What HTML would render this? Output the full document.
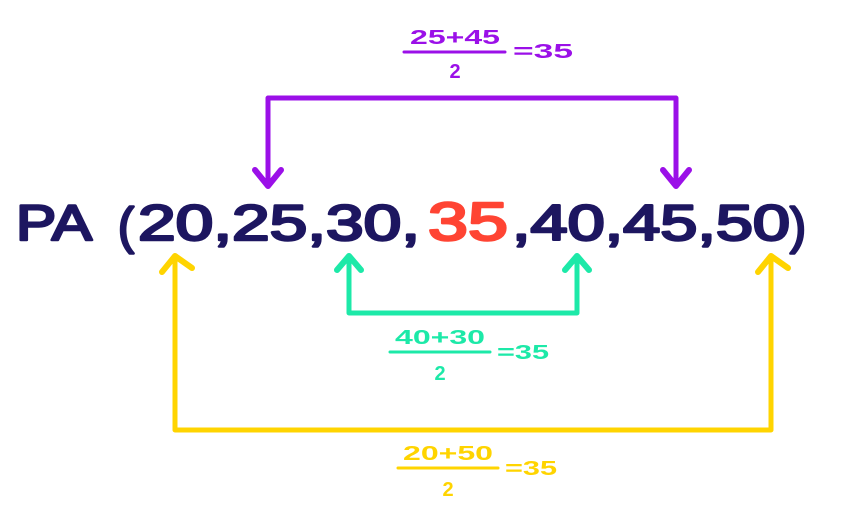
<!DOCTYPE html>
<html><head><style>body{margin:0;background:#fff}svg{display:block}</style></head><body>
<svg width="858" height="514" viewBox="0 0 858 514" xmlns="http://www.w3.org/2000/svg" font-family="'Liberation Sans', sans-serif" font-weight="bold">
<g fill="none" stroke-linecap="round" stroke-linejoin="round" stroke-width="5">
<path d="M268 185 V98 H676 V185" stroke="#9b10e8"/>
<path d="M255 170 L268 186 L281 170 M663 170 L676 186 L689 170" stroke="#9b10e8" stroke-width="6"/>
<path d="M349 258 V313 H577 V258" stroke="#1de9a8"/>
<path d="M337 270 L349 256 L361 270 M565 270 L577 256 L589 270" stroke="#1de9a8" stroke-width="6"/>
<path d="M175 258 V430 H771 V258" stroke="#ffd400"/>
<path d="M162 272 L175 256 L192 268 M758 272 L771 256 L788 268" stroke="#ffd400" stroke-width="6"/>
<path d="M404 52 H505" stroke="#9b10e8" stroke-width="3"/>
<path d="M390 352 H490" stroke="#1de9a8" stroke-width="3"/>
<path d="M398 468 H498" stroke="#ffd400" stroke-width="3"/>
</g>
<g font-size="50" fill="#1d1660" font-weight="normal" stroke="#1d1660" stroke-width="2.5" stroke-linejoin="round">
<text x="16" y="240" textLength="76" lengthAdjust="spacingAndGlyphs">PA</text>
<text x="118" y="243" textLength="16" lengthAdjust="spacingAndGlyphs">(</text>
<text x="138" y="240" textLength="282" lengthAdjust="spacingAndGlyphs">20,25,30,</text>
<text x="428" y="240" fill="#ff4433" stroke="#ff4433" font-size="54" textLength="80" lengthAdjust="spacingAndGlyphs">35</text>
<text x="512" y="240" textLength="278" lengthAdjust="spacingAndGlyphs">,40,45,50</text>
<text x="790" y="243" textLength="16" lengthAdjust="spacingAndGlyphs">)</text>
</g>
<g font-size="20" fill="#9b10e8">
<text x="455" y="44" text-anchor="middle" textLength="90" lengthAdjust="spacingAndGlyphs">25+45</text>
<text x="455" y="78" text-anchor="middle">2</text>
<text x="513" y="58" textLength="60" lengthAdjust="spacingAndGlyphs">=35</text>
</g>
<g font-size="20" fill="#1de9a8">
<text x="440" y="344" text-anchor="middle" textLength="90" lengthAdjust="spacingAndGlyphs">40+30</text>
<text x="440" y="380" text-anchor="middle">2</text>
<text x="497" y="359" textLength="52" lengthAdjust="spacingAndGlyphs">=35</text>
</g>
<g font-size="20" fill="#ffd400">
<text x="448" y="460" text-anchor="middle" textLength="90" lengthAdjust="spacingAndGlyphs">20+50</text>
<text x="448" y="496" text-anchor="middle">2</text>
<text x="505" y="475" textLength="52" lengthAdjust="spacingAndGlyphs">=35</text>
</g>
</svg>
</body></html>
